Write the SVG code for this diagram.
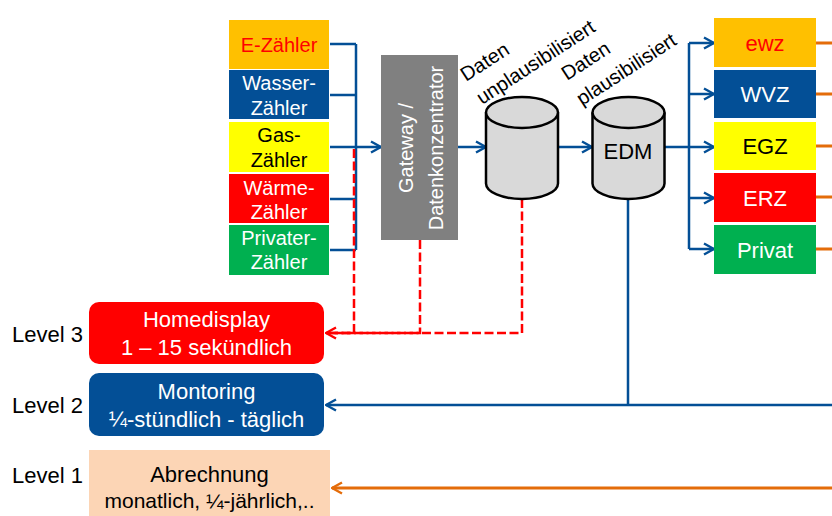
<svg xmlns="http://www.w3.org/2000/svg" width="832" height="516" viewBox="0 0 832 516">
<defs>
<marker id="ab" markerUnits="userSpaceOnUse" markerWidth="12" markerHeight="14" viewBox="0 0 12 14" refX="11" refY="7" orient="auto"><path d="M1,1.5 L11,7 L1,12.5" fill="none" stroke="#034F96" stroke-width="2.4"/></marker>
<marker id="ar" markerUnits="userSpaceOnUse" markerWidth="12" markerHeight="14" viewBox="0 0 12 14" refX="11" refY="7" orient="auto"><path d="M1,1.5 L11,7 L1,12.5" fill="none" stroke="#FF0000" stroke-width="2.4"/></marker>
<marker id="ao" markerUnits="userSpaceOnUse" markerWidth="12" markerHeight="14" viewBox="0 0 12 14" refX="11" refY="7" orient="auto"><path d="M1,1.5 L11,7 L1,12.5" fill="none" stroke="#E46C0A" stroke-width="2.4"/></marker>
</defs>
<style>
text{font-family:"Liberation Sans",Arial,sans-serif}
.m{font-size:20px;text-anchor:middle}
.r{font-size:22px;text-anchor:middle}
.lv{font-size:22px;fill:#000}
.w{fill:#FFFFFF}
.k{fill:#000000}
.bl{fill:none;stroke:#034F96;stroke-width:2.5}
.rd{fill:none;stroke:#FF0000;stroke-width:2.5;stroke-dasharray:9 3.5}
.or{fill:none;stroke:#E46C0A;stroke-width:3}
.cyl{fill:#D9D9D9;stroke:#000;stroke-width:2.5}
.lab{font-size:20px;fill:#000}
</style>

<g id="connectors">
  <path class="bl" d="M330,44 H356 M330,95 H356 M330,199 H356 M330,250 H356 M356,44 V250"/>
  <path class="bl" d="M330,147 H381" marker-end="url(#ab)"/>
  <path class="bl" d="M458,147 H486" marker-end="url(#ab)"/>
  <path class="bl" d="M558,147 H592" marker-end="url(#ab)"/>
  <path class="bl" d="M665,147 H689 M689,43 V249"/>
  <path class="bl" d="M689,43 H714" marker-end="url(#ab)"/>
  <path class="bl" d="M689,94 H714" marker-end="url(#ab)"/>
  <path class="bl" d="M689,147 H714" marker-end="url(#ab)"/>
  <path class="bl" d="M689,198 H714" marker-end="url(#ab)"/>
  <path class="bl" d="M689,249 H714" marker-end="url(#ab)"/>
  <path class="bl" d="M628,199 V405 M832,405 H326" marker-end="url(#ab)"/>
  <path class="or" d="M816,43 H832 M816,94 H832 M816,146 H832 M816,197 H832 M816,249 H832"/>
  <path class="or" d="M832,488 H332" marker-end="url(#ao)"/>
  <path class="rd" d="M522,199 V333 H326" marker-end="url(#ar)"/>
  <path class="rd" d="M420,240 V333 H326"/>
  <path class="rd" d="M354,149 V333 H326"/>
</g>

<g id="e-zaehler"><rect x="229" y="20" width="100" height="49" fill="#FFC000"/><text class="m" x="279" y="51.5" fill="#FF0000">E-Zähler</text></g>
<g id="wasser-zaehler"><rect x="229" y="70" width="100" height="49" fill="#034F96"/><text class="m w" x="279" y="90">Wasser-</text><text class="m w" x="279" y="115">Zähler</text></g>
<g id="gas-zaehler"><rect x="229" y="122" width="100" height="50" fill="#FFFF00"/><text class="m k" x="279" y="141.5">Gas-</text><text class="m k" x="279" y="166.5">Zähler</text></g>
<g id="waerme-zaehler"><rect x="229" y="174" width="100" height="49" fill="#FF0000"/><text class="m w" x="279" y="194.5">Wärme-</text><text class="m w" x="279" y="218.5">Zähler</text></g>
<g id="privater-zaehler"><rect x="229" y="225" width="100" height="50" fill="#00B050"/><text class="m w" x="279" y="245">Privater-</text><text class="m w" x="279" y="269">Zähler</text></g>

<g id="gateway"><rect x="381" y="55" width="77" height="185" fill="#808080"/>
  <text class="m w" transform="translate(413,148) rotate(-90)">Gateway /</text>
  <text class="m w" transform="translate(443,148) rotate(-90)">Datenkonzentrator</text>
</g>

<g id="db-unplausibel">
  <path class="cyl" d="M486,112.5 V183.5 A36,15.5 0 0 0 558,183.5 V112.5"/>
  <ellipse class="cyl" cx="522" cy="112.5" rx="36" ry="15.5"/>
  <text class="lab" transform="translate(466,82) rotate(-33)">Daten</text>
  <text class="lab" transform="translate(482,105) rotate(-33)">unplausibilisiert</text>
</g>

<g id="edm">
  <path class="cyl" d="M592.5,112.5 V183.5 A36,15.5 0 0 0 664.5,183.5 V112.5"/>
  <ellipse class="cyl" cx="628.5" cy="112.5" rx="36" ry="15.5"/>
  <text class="r k" x="628" y="159">EDM</text>
  <text class="lab" transform="translate(567,81) rotate(-33)">Daten</text>
  <text class="lab" transform="translate(582,106) rotate(-33)">plausibilisiert</text>
</g>

<g id="ewz"><rect x="714" y="18" width="102" height="49" fill="#FFC000"/><text class="r" x="765" y="50.5" fill="#FF0000">ewz</text></g>
<g id="wvz"><rect x="714" y="70" width="102" height="48" fill="#034F96"/><text class="r w" x="765" y="102">WVZ</text></g>
<g id="egz"><rect x="714" y="122" width="102" height="48" fill="#FFFF00"/><text class="r k" x="765" y="154">EGZ</text></g>
<g id="erz"><rect x="714" y="173" width="102" height="49" fill="#FF0000"/><text class="r w" x="765" y="205.5">ERZ</text></g>
<g id="privat"><rect x="714" y="225" width="102" height="49" fill="#00B050"/><text class="r w" x="765" y="257.5">Privat</text></g>

<g id="level3"><text class="lv" x="12" y="342">Level 3</text>
  <rect x="89" y="302" width="235" height="62" rx="10" fill="#FF0000"/>
  <text class="r w" x="206.5" y="327">Homedisplay</text><text class="r w" x="206.5" y="355">1 – 15 sekündlich</text></g>
<g id="level2"><text class="lv" x="12" y="413">Level 2</text>
  <rect x="89" y="373" width="235" height="63" rx="10" fill="#034F96"/>
  <text class="r w" x="206.5" y="399">Montoring</text><text class="r w" x="206.5" y="427">¼-stündlich - täglich</text></g>
<g id="level1"><text class="lv" x="12" y="483">Level 1</text>
  <rect x="89" y="450" width="241" height="66" fill="#FCD5B5"/>
  <text class="r k" x="209.5" y="482">Abrechnung</text><text class="k" x="209.5" y="508" font-size="21" text-anchor="middle">monatlich, ¼-jährlich,..</text></g>
</svg>
